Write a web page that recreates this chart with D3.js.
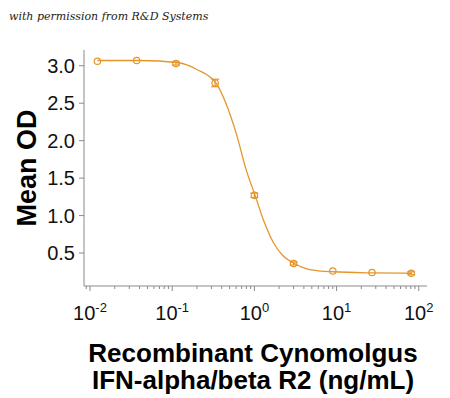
<!DOCTYPE html>
<html>
<head>
<meta charset="utf-8">
<script src="https://cdn.jsdelivr.net/npm/d3@7"></script>
<style>
  body { margin: 0; background: #fff; }
  svg { display: block; }
</style>
</head>
<body>
<div id="chart"></div>
<script>
// concentrations (ng/mL), 3-fold dilutions
var conc = [0.0123, 0.037, 0.111, 0.333, 1, 3, 9, 27, 81];
var meanOD = [3.06, 3.07, 3.03, 2.77, 1.27, 0.36, 0.26, 0.24, 0.23];
var errOD = [0, 0, 0.02, 0.05, 0.03, 0.02, 0, 0, 0.02];

// fitted curve
var fitX = [0.0123, 0.04, 0.12, 0.2, 0.34, 0.45, 0.6, 0.8, 1.02, 1.3, 1.7, 2.2, 3.07, 4.7, 9.2, 27, 82];
var fitY = [3.07, 3.07, 3.04, 2.95, 2.77, 2.5, 2.1, 1.6, 1.27, 0.93, 0.64, 0.47, 0.36, 0.28, 0.25, 0.235, 0.23];

var yTicks = [0.5, 1.0, 1.5, 2.0, 2.5, 3.0];
var xTickExps = [-2, -1, 0, 1, 2];

var width = 450, height = 398;
var orange = '#E4962B';
var axisColor = '#8a8a8a';
var mainFont = 'Arial, "Liberation Sans", sans-serif';

var svg = d3.select('#chart').append('svg')
    .attr('width', width)
    .attr('height', height);

var x = d3.scaleLog().domain([0.00845, 126]).range([84, 427]);
var y = d3.scaleLinear().domain([0.06, 3.21]).range([286, 50]);

// watermark
svg.append('text')
    .attr('x', 9)
    .attr('y', 20)
    .style('font-family', '"DejaVu Serif", serif')
    .style('font-style', 'italic')
    .style('font-size', '11px')
    .style('fill', '#222')
    .text('with permission from R&D Systems');

// y axis
svg.append('line')
    .attr('x1', 84).attr('x2', 84)
    .attr('y1', 50).attr('y2', 286)
    .attr('stroke', axisColor).attr('stroke-width', 1);

yTicks.forEach(function(t) {
    svg.append('line')
        .attr('x1', 79).attr('x2', 84)
        .attr('y1', y(t)).attr('y2', y(t))
        .attr('stroke', axisColor);
    svg.append('text')
        .attr('x', 75)
        .attr('y', y(t))
        .attr('dy', '0.36em')
        .style('text-anchor', 'end')
        .style('font-family', mainFont)
        .style('font-size', '20px')
        .style('fill', '#111')
        .text(t.toFixed(1));
});

// x axis
svg.append('line')
    .attr('x1', 84).attr('x2', 427)
    .attr('y1', 286).attr('y2', 286)
    .attr('stroke', axisColor).attr('stroke-width', 1);

for (var e = -3; e <= 2; e++) {
    for (var m = 1; m <= 9; m++) {
        var v = m * Math.pow(10, e);
        if (v < x.domain()[0] || v > x.domain()[1]) continue;
        svg.append('line')
            .attr('x1', x(v)).attr('x2', x(v))
            .attr('y1', 286).attr('y2', m === 1 ? 291 : 289)
            .attr('stroke', axisColor);
    }
}

xTickExps.forEach(function(ex) {
    var t = svg.append('text')
        .attr('x', x(Math.pow(10, ex)))
        .attr('y', 320)
        .style('text-anchor', 'middle')
        .style('font-family', mainFont)
        .style('font-size', '20px')
        .style('fill', '#111');
    t.append('tspan').text('10');
    t.append('tspan')
        .attr('dy', -8)
        .style('font-size', '13px')
        .text(ex < 0 ? '-' + (-ex) : String(ex));
});

// axis titles
svg.append('text')
    .attr('transform', 'translate(36,168) rotate(-90)')
    .style('text-anchor', 'middle')
    .style('font-family', mainFont)
    .style('font-weight', 'bold')
    .style('font-size', '27px')
    .style('fill', '#000')
    .text('Mean OD');

svg.append('text')
    .attr('x', 253).attr('y', 362)
    .style('text-anchor', 'middle')
    .style('font-family', mainFont)
    .style('font-weight', 'bold')
    .style('font-size', '26px')
    .style('fill', '#000')
    .text('Recombinant Cynomolgus');

svg.append('text')
    .attr('x', 253).attr('y', 389)
    .style('text-anchor', 'middle')
    .style('font-family', mainFont)
    .style('font-weight', 'bold')
    .style('font-size', '26px')
    .style('fill', '#000')
    .text('IFN-alpha/beta R2 (ng/mL)');

// fit curve
var line = d3.line()
    .x(function(d) { return x(d[0]); })
    .y(function(d) { return y(d[1]); })
    .curve(d3.curveMonotoneX);

svg.append('path')
    .attr('d', line(d3.zip(fitX, fitY)))
    .attr('fill', 'none')
    .attr('stroke', orange)
    .attr('stroke-width', 1.3);

// error bars and points
var pts = svg.append('g');
conc.forEach(function(c, i) {
    var cx = x(c);
    if (errOD[i] > 0) {
        var top = y(meanOD[i] + errOD[i]);
        var bot = y(meanOD[i] - errOD[i]);
        pts.append('line').attr('x1', cx).attr('x2', cx).attr('y1', top).attr('y2', bot)
            .attr('stroke', orange).attr('stroke-width', 1.2);
        pts.append('line').attr('x1', cx - 4).attr('x2', cx + 4).attr('y1', top).attr('y2', top)
            .attr('stroke', orange).attr('stroke-width', 1.2);
        pts.append('line').attr('x1', cx - 4).attr('x2', cx + 4).attr('y1', bot).attr('y2', bot)
            .attr('stroke', orange).attr('stroke-width', 1.2);
    }
    pts.append('circle')
        .attr('cx', cx)
        .attr('cy', y(meanOD[i]))
        .attr('r', 3.2)
        .attr('fill', 'none')
        .attr('stroke', orange)
        .attr('stroke-width', 1.2);
});
</script>
</body>
</html>
